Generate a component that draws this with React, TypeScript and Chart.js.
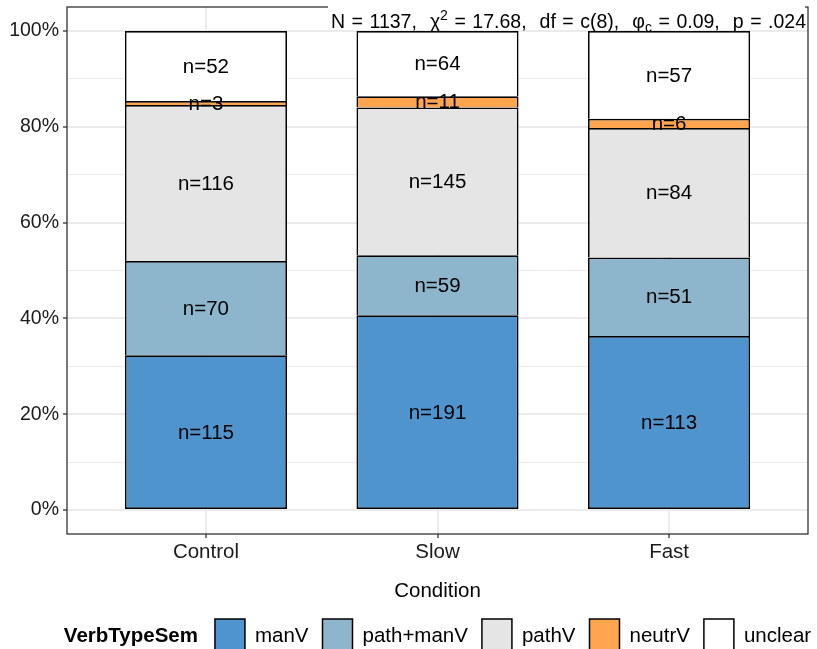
import React, { useEffect, useRef } from "react";
import { Chart, registerables } from "chart.js";

Chart.register(...registerables);

const categories = ["Control", "Slow", "Fast"];
const seriesNames = ["manV", "path+manV", "pathV", "neutrV", "unclear"];
const manV = [115, 191, 113];
const pathManV = [70, 59, 51];
const pathV = [116, 145, 84];
const neutrV = [3, 11, 6];
const unclear = [52, 64, 57];
const seriesCounts = [manV, pathManV, pathV, neutrV, unclear];
const seriesColors = ["#4F94CD", "#8DB6CD", "#E5E5E5", "#FFA54F", "#FFFFFF"];
const yTickValues = [0, 10, 20, 30, 40, 50, 60, 70, 80, 90, 100];
const yMajorLabels: Record<number, string> = { 0: "0%", 20: "20%", 40: "40%", 60: "60%", 80: "80%", 100: "100%" };
const xTitle = "Condition";
const legendTitle = "VerbTypeSem";

const FONT = "'Liberation Sans', Arial, Helvetica, sans-serif";
const FS = 20.5;
const YFS = 19.5;

const totals = categories.map((_, j) => seriesCounts.reduce((s, arr) => s + arr[j], 0));

export default function App() {
  const ref = useRef<HTMLCanvasElement | null>(null);
  useEffect(() => {
    if (!ref.current) return;
    const datasets = seriesNames.map((name, i) => ({
      label: name,
      data: categories.map((_, j) => ({ x: j + 1, y: (seriesCounts[i][j] / totals[j]) * 100 })),
      backgroundColor: seriesColors[i],
      borderColor: "#000000",
      borderWidth: 1.7,
      borderSkipped: (i === 0 ? false : "bottom") as any,
      categoryPercentage: 1,
      barPercentage: 0.7,
    }));

    const overlay = {
      id: "overlay",
      afterDatasetsDraw(chart: any) {
        const ctx = chart.ctx;
        const ca = chart.chartArea;
        ctx.save();
        ctx.fillStyle = "#000";
        ctx.font = `${FS}px ${FONT}`;
        ctx.textAlign = "center";
        ctx.textBaseline = "middle";
        seriesNames.forEach((_, i) => {
          const meta = chart.getDatasetMeta(i);
          meta.data.forEach((bar: any, j: number) => {
            const cy = (bar.y + bar.base) / 2;
            ctx.fillText("n=" + seriesCounts[i][j], bar.x, cy + 1);
          });
        });
        // panel border
        ctx.strokeStyle = "#333333";
        ctx.lineWidth = 1.3;
        ctx.strokeRect(ca.left, ca.top, ca.right - ca.left, ca.bottom - ca.top);
        ctx.restore();
      },
      afterDraw(chart: any) {
        const ctx = chart.ctx;
        const ca = chart.chartArea;
        const cx = (ca.left + ca.right) / 2;
        ctx.save();
        // x title
        ctx.fillStyle = "#000";
        ctx.font = `${FS}px ${FONT}`;
        ctx.textAlign = "center";
        ctx.textBaseline = "middle";
        ctx.fillText(xTitle, cx, 591);

        // annotation (plotmath-like)
        const aFs = 19.5;
        const normal = `${aFs}px ${FONT}`;
        const small = `${aFs * 0.72}px ${FONT}`;
        const toks: [string, string, number, number][] = [
          ["N", normal, 0, 1],
          ["=", normal, 0, 1],
          ["1137,", normal, 0, 2],
          ["\u03C7", normal, 0, 0],
          ["2", small, -8, 1],
          ["=", normal, 0, 1],
          ["17.68,", normal, 0, 2],
          ["df", normal, 0, 1],
          ["=", normal, 0, 1],
          ["c(8),", normal, 0, 2],
          ["\u03C6", normal, 0, 0],
          ["c", small, 4, 1],
          ["=", normal, 0, 1],
          ["0.09,", normal, 0, 2],
          ["p", normal, 0, 1],
          ["=", normal, 0, 1],
          [".024", normal, 0, 0],
        ];
        const left = 331;
        const right = 806;
        let sumW = 0;
        let sumG = 0;
        toks.forEach(([t, f, , g]) => {
          ctx.font = f;
          sumW += ctx.measureText(t).width;
          sumG += g;
        });
        const unit = (right - left - sumW) / sumG;
        ctx.fillStyle = "#FFFFFF";
        ctx.fillRect(left - 3, 0, right - left + 2, 28);
        ctx.fillStyle = "#000";
        ctx.textAlign = "left";
        ctx.textBaseline = "alphabetic";
        let x = left;
        toks.forEach(([t, f, dy, g]) => {
          ctx.font = f;
          ctx.fillText(t, x, 28 + dy);
          x += ctx.measureText(t).width + g * unit;
        });

        // legend
        const boxW = 30;
        const boxGap = 10;
        const itemGap = 14;
        const titleGap = 17;
        ctx.font = `bold ${FS}px ${FONT}`;
        const titleW = ctx.measureText(legendTitle).width;
        ctx.font = `${FS}px ${FONT}`;
        const textWs = seriesNames.map((n) => ctx.measureText(n).width);
        let lw = titleW + titleGap;
        textWs.forEach((w, i) => {
          lw += boxW + boxGap + w + (i < textWs.length - 1 ? itemGap : 0);
        });
        let lx = cx - lw / 2;
        const ly = 636;
        ctx.textBaseline = "middle";
        ctx.font = `bold ${FS}px ${FONT}`;
        ctx.fillText(legendTitle, lx, ly);
        lx += titleW + titleGap;
        ctx.font = `${FS}px ${FONT}`;
        seriesNames.forEach((n, i) => {
          ctx.fillStyle = seriesColors[i];
          ctx.fillRect(lx, 619, boxW, 34);
          ctx.strokeStyle = "#000";
          ctx.lineWidth = 1.5;
          ctx.strokeRect(lx, 619, boxW, 34);
          lx += boxW + boxGap;
          ctx.fillStyle = "#000";
          ctx.fillText(n, lx, ly);
          lx += textWs[i] + itemGap;
        });
        ctx.restore();
      },
    };

    const chart = new Chart(ref.current, {
      type: "bar",
      data: { datasets: datasets as any },
      options: {
        animation: false,
        responsive: false,
        devicePixelRatio: 1,
        layout: { padding: { left: 0, top: 7, right: 9, bottom: 0 } },
        plugins: { legend: { display: false }, tooltip: { enabled: false } },
        scales: {
          x: {
            type: "linear",
            min: 0.4,
            max: 3.6,
            offset: false,
            stacked: true,
            afterBuildTicks: (s: any) => {
              s.ticks = categories.map((_, i) => ({ value: i + 1 }));
            },
            afterFit: (s: any) => {
              s.height = 115;
              s.paddingLeft = 0;
              s.paddingRight = 0;
            },
            ticks: {
              callback: (v: any) => categories[Math.round(v) - 1] ?? "",
              font: { family: FONT, size: FS },
              color: "#1A1A1A",
              padding: 2,
              maxRotation: 0,
              autoSkip: false,
            },
            grid: { offset: false, color: "#EBEBEB", lineWidth: 2, tickColor: "#333333", tickLength: 4, tickWidth: 1.3 },
            border: { display: false },
          },
          y: {
            type: "linear",
            min: -5,
            max: 105,
            stacked: true,
            afterBuildTicks: (s: any) => {
              s.ticks = yTickValues.map((v) => ({ value: v }));
            },
            afterFit: (s: any) => {
              s.width = 67;
              s.paddingTop = 0;
              s.paddingBottom = 0;
            },
            ticks: {
              callback: (v: any) => yMajorLabels[Math.round(v)] ?? "",
              font: { family: FONT, size: YFS },
              color: "#1A1A1A",
              padding: 4,
              autoSkip: false,
            },
            grid: {
              color: "#EBEBEB",
              lineWidth: (c: any) => (c.tick && Math.round(c.tick.value) % 20 === 0 ? 2 : 1),
              tickColor: (c: any) => (c.tick && Math.round(c.tick.value) % 20 === 0 ? "#333333" : "rgba(0,0,0,0)"),
              tickLength: 4,
              tickWidth: 1.3,
            },
            border: { display: false },
          },
        },
      },
      plugins: [overlay],
    });
    return () => chart.destroy();
  }, []);

  return (
    <div style={{ position: "absolute", left: 0, top: 0, width: 817, height: 649, background: "#fff" }}>
      <canvas ref={ref} width={817} height={649} style={{ width: 817, height: 649 }} />
    </div>
  );
}
